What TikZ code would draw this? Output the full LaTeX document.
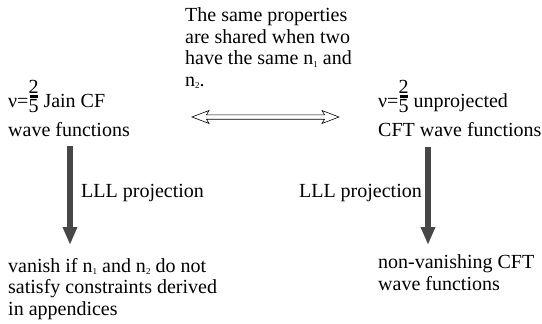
\documentclass[tikz,border=0pt]{standalone}
\usepackage{fontspec}
\setmainfont{Liberation Serif}
\usetikzlibrary{arrows.meta,calc}
\newcommand\twofifths{\raisebox{-5.8pt}{\vbox{\offinterlineskip\halign{\hfil##\hfil\cr 2\cr\noalign{\kern2pt}\vrule width 8pt height 2.6pt\cr\noalign{\kern2pt}5\cr}}}}
\newcommand\sbs[1]{\raisebox{-2.5pt}{\fontsize{9pt}{9pt}\selectfont #1}}
\begin{document}
\begin{tikzpicture}[x=1pt,y=-1pt,
  txt/.style={inner sep=0pt, align=left, anchor=base west, font=\fontsize{20pt}{21.5pt}\selectfont},
  bigarrow/.style={line width=6pt, draw=black!72, -{Triangle[width=13.5pt,length=18pt]}},
  hollow/.style={draw=black, fill=white, line width=0.6pt, line join=miter}]
\useasboundingbox (0,0) rectangle (542,324);
% anchors are on the baseline of each node's last line
\node[txt] (top) at (185,86) {The same properties\\are shared when two\\have the same n\sbs{1} and\\n\sbs{2}.};
\node[txt] (L) at (8,136) {ν=\twofifths{} Jain CF\\[7.5pt]wave functions};
\node[txt] (R) at (378,136) {ν=\twofifths{} unprojected\\[7.5pt]CFT wave functions};
\node[txt] (LP) at (81,197) {LLL projection};
\node[txt, anchor=base east] (RP) at (422,197) {LLL projection};
\node[txt] (BL) at (8,315) {vanish if n\sbs{1} and n\sbs{2} do not\\satisfy constraints derived\\in appendices};
\node[txt] (BR) at (378,290) {non-vanishing CFT\\wave functions};
\coordinate (la1) at (70,146);
\coordinate (la2) at (70,245);
\coordinate (ra1) at (428,147);
\coordinate (ra2) at (428,245);
\draw[bigarrow] (la1) -- (la2);
\draw[bigarrow] (ra1) -- (ra2);
\coordinate (dl) at (192,117);
\coordinate (dr) at (339,117);
\draw[hollow] (dl) -- ++(17,-6.5) -- ++(-2.5,4.3) -- ($(dr)+(-14.5,-2.2)$) -- ++(-2.5,-4.3) -- (dr)
  -- ++(-17,6.5) -- ++(2.5,-4.3) -- ($(dl)+(14.5,2.2)$) -- ++(2.5,4.3) -- cycle;
\end{tikzpicture}
\end{document}
